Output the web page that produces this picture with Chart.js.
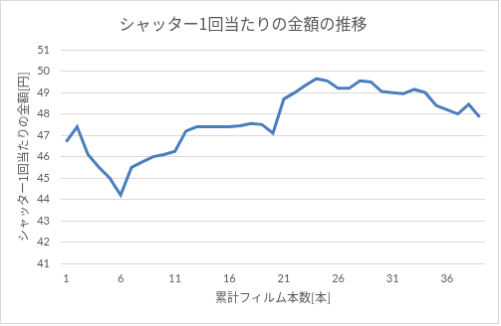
<!DOCTYPE html>
<html>
<head>
<meta charset="utf-8">
<script src="https://cdn.jsdelivr.net/npm/chart.js@4/dist/chart.umd.min.js"></script>
<style>
  body { margin: 0; background: #fff; }
  #myChart { border: 1px solid #d9d9d9; display: block; }
</style>
</head>
<body>
<canvas id="myChart" width="499" height="324"></canvas>
<script>
// 累計フィルム本数ごとのシャッター1回当たりの金額
var filmCounts = []
for (var n = 1; n <= 39; n++) filmCounts.push(String(n))
var costPerShot = [46.7, 47.4, 46.1, 45.5, 45.0, 44.2, 45.5, 45.75, 46.0, 46.1,
  46.25, 47.2, 47.4, 47.4, 47.4, 47.4, 47.45, 47.55, 47.5, 47.1,
  48.7, 49.0, 49.35, 49.65, 49.55, 49.2, 49.2, 49.55, 49.5, 49.05,
  49.0, 48.95, 49.15, 49.0, 48.4, 48.2, 48.0, 48.45, 47.85]
var yTicks = [41, 42, 43, 44, 45, 46, 47, 48, 49, 50, 51]

var textColor = '#595959'
var jpFont = '"Noto Sans CJK JP", sans-serif'
var numFont = 'Lato, "Liberation Sans", sans-serif'

var ctx = document.getElementById('myChart').getContext('2d')
var myChart = new Chart(ctx, {
  type: 'line',
  data: {
    labels: filmCounts,
    datasets: [{
      data: costPerShot,
      borderColor: '#4a7ebb',
      borderWidth: 3,
      pointRadius: 0,
      tension: 0,
      fill: false
    }]
  },
  options: {
    responsive: false,
    animation: false,
    layout: {padding: {left: 0, right: 13, top: 0, bottom: 0}},
    plugins: {
      legend: {display: false},
      tooltip: {enabled: false},
      title: {
        display: true,
        text: 'シャッター1回当たりの金額の推移',
        color: textColor,
        font: {family: jpFont, size: 16, weight: 'normal'},
        padding: {top: 13, bottom: 17}
      }
    },
    scales: {
      x: {
        offset: true,
        grid: {display: false, drawTicks: false},
        border: {display: false},
        ticks: {
          autoSkip: false,
          maxRotation: 0,
          padding: 9,
          color: textColor,
          font: {family: numFont, size: 11},
          callback: function(val, i) { return i % 5 === 0 ? filmCounts[i] : '' }
        },
        title: {
          display: true,
          text: '累計フィルム本数[本]',
          color: textColor,
          font: {family: jpFont, size: 12},
          padding: {top: 0, bottom: 18}
        },
        afterFit: function(scale) { scale.height = 60 }
      },
      y: {
        min: yTicks[0],
        max: yTicks[yTicks.length - 1],
        grid: {color: '#d9d9d9', lineWidth: 1, drawTicks: false},
        border: {display: false},
        afterBuildTicks: function(scale) {
          scale.ticks = yTicks.map(function(v) { return {value: v} })
        },
        ticks: {
          padding: 11,
          color: textColor,
          font: {family: numFont, size: 11}
        },
        title: {
          display: true,
          text: 'シャッター1回当たりの金額[円]',
          color: textColor,
          font: {family: jpFont, size: 12},
          padding: {top: 15, bottom: 0}
        },
        afterFit: function(scale) { scale.width = 60 }
      }
    }
  }
})
</script>
</body>
</html>
